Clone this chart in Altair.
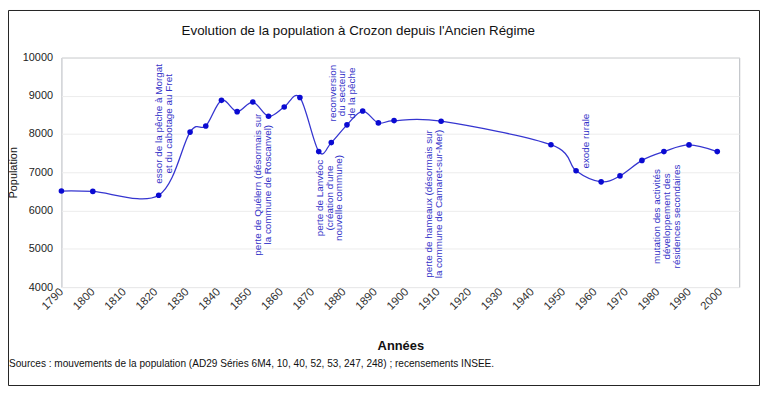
import altair as alt
import pandas as pd

# ---- data ----
years = [1790, 1800, 1821, 1831, 1836, 1841, 1846, 1851, 1856, 1861, 1866, 1872, 1876,
         1881, 1886, 1891, 1896, 1911, 1946, 1954, 1962, 1968, 1975, 1982, 1990, 1999]
population = [6510, 6500, 6400, 8050, 8210, 8880, 8585, 8835, 8465, 8705, 8955, 7540, 7775,
              8240, 8600, 8290, 8350, 8335, 7720, 7040, 6750, 6905, 7310, 7540, 7715, 7540]

ann_text = [
    "essor de la pêche à Morgat\net du cabotage au Fret",
    "perte de Quélern (désormais sur\nla commune de Roscanvel)",
    "perte de Lanvéoc\n(création d'une\nnouvelle commune)",
    "reconversion\ndu secteur\nde la pêche",
    "perte de hameaux (désormais sur\nla commune de Camaret-sur-Mer)",
    "exode rurale",
    "mutation des activités\ndéveloppement des\nrésidences secondaires",
]
ann_year = [1821.2, 1852.8, 1872.3, 1876.4, 1907.2, 1957.1, 1979.9]
ann_pop = [8267, 6676, 6327, 9069, 6172, 7814, 5844]

x_ticks = list(range(1790, 2001, 10))
y_ticks = list(range(4000, 10001, 1000))

TITLE = "Evolution de la population à Crozon depuis l'Ancien Régime"
SOURCES = "Sources : mouvements de la population (AD29 Séries 6M4, 10, 40, 52, 53, 247, 248) ; recensements INSEE."

FONT = "Liberation Sans"
LINE_COLOR = "#3535d0"
POINT_COLOR = "#0a0ad2"
TEXT_BLUE = "#3333c8"

W, H = 685, 232
PAD = {"left": 54, "top": 48, "right": 21, "bottom": 100}

df = pd.DataFrame({"year": years, "pop": population})
ann = pd.DataFrame({"year": ann_year, "pop": ann_pop, "txt": ann_text})

xs = alt.Scale(domain=[1790, 2006], nice=False, zero=False)
ys = alt.Scale(domain=[4000, 10000], nice=False, zero=False)

X = alt.X("year:Q", scale=xs, axis=alt.Axis(
    values=x_ticks, format="d", labelAngle=-45, labelAlign="right", labelBaseline="middle",
    labelPadding=3, labelFontSize=11.5, labelColor="#333333", labelFont=FONT,
    ticks=False, domain=False, grid=False, labelOverlap=False,
    title="Années", titleFont=FONT, titleFontSize=13, titleFontWeight="bold",
    titleColor="#111111", titleX=W / 2, titleY=59, titleBaseline="middle", titleAlign="center"))
Y = alt.Y("pop:Q", scale=ys, axis=alt.Axis(
    values=y_ticks, format="d", labelPadding=9, labelFontSize=11, labelColor="#222222",
    labelFont=FONT, ticks=False, domain=False, grid=True, gridColor="#ececec",
    title="Population", titleFont=FONT, titleFontSize=11, titleFontWeight="normal",
    titleColor="#111111", titleAngle=-90, titleX=-48, titleY=H / 2,
    titleBaseline="middle", titleAlign="center"))

frame = alt.Chart(pd.DataFrame({"a": [0]})).mark_rect(
    fill="transparent", stroke="#222222", strokeWidth=1
).encode(x=alt.value(-PAD["left"] + 0.5), x2=alt.value(W + PAD["right"] - 0.5),
         y=alt.value(-PAD["top"] + 0.5), y2=alt.value(H + PAD["bottom"] - 0.5))

line = alt.Chart(df).mark_line(interpolate="cardinal", color=LINE_COLOR, strokeWidth=1.3).encode(x=X, y=Y)
points = alt.Chart(df).mark_point(filled=True, color=POINT_COLOR, opacity=1, size=32).encode(x=X, y=Y)

labels = alt.Chart(ann).mark_text(
    angle=270, align="center", baseline="middle", lineBreak="\n", font=FONT,
    fontSize=10, lineHeight=10, color=TEXT_BLUE
).encode(x=X, y=Y, text="txt:N")

title = alt.Chart(pd.DataFrame({"t": [TITLE]})).mark_text(
    font=FONT, fontSize=13.5, color="#111111", align="center", baseline="middle"
).encode(x=alt.value(300), y=alt.value(-27), text="t:N")

sources = alt.Chart(pd.DataFrame({"t": [SOURCES]})).mark_text(
    font=FONT, fontSize=10.2, color="#111111", align="left", baseline="middle"
).encode(x=alt.value(-PAD["left"] + 1), y=alt.value(310), text="t:N")

chart = alt.layer(frame, line, points, labels, title, sources).properties(
    width=W, height=H, padding=PAD, autosize=alt.AutoSizeParams(type="none"),
    background="white"
).configure_view(stroke="#b5b9be", strokeWidth=1)

chart.save("out.html", embed_options={"renderer": "svg", "actions": False})
